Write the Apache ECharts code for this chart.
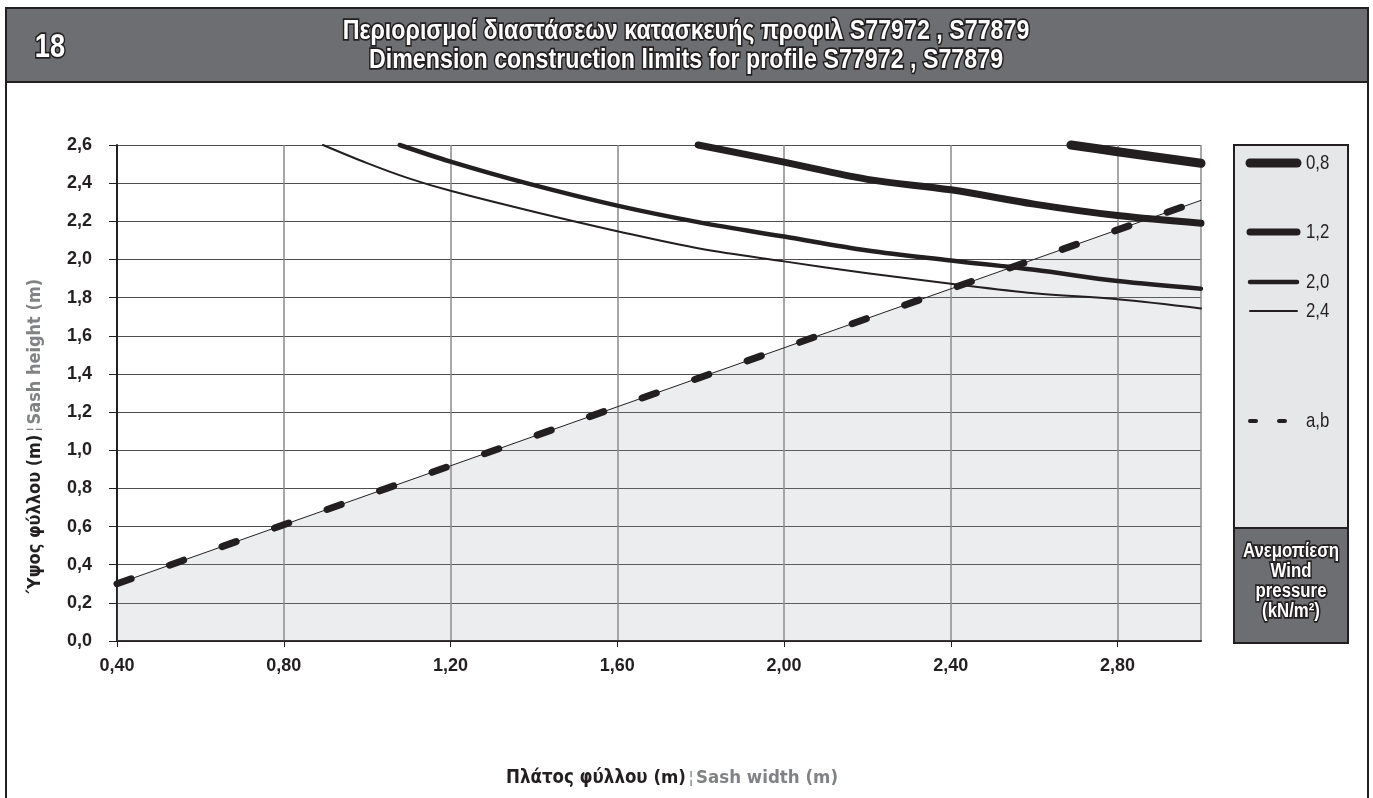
<!DOCTYPE html>
<html><head><meta charset="utf-8">
<script src="https://cdn.jsdelivr.net/npm/echarts@6/dist/echarts.min.js"></script>
<style>html,body{margin:0;padding:0;background:#fff}#c{width:1373px;height:798px}</style>
</head><body><div id="c"></div>
<script>
// ---- data ----
const titleLines = ['Περιορισμοί διαστάσεων κατασκευής προφιλ S77972 , S77879', 'Dimension construction limits for profile S77972 , S77879'];
const pageNumber = '18';
const pressureNames = ['0,8', '1,2', '2,0', '2,4'];
const limitName = 'a,b';
const curve08 = [[2.688, 2.60], [2.80, 2.565], [3.00, 2.504]];
const curve12 = [[1.794, 2.60], [2.00, 2.51], [2.20, 2.42], [2.40, 2.365], [2.60, 2.29], [2.80, 2.23], [3.00, 2.19]];
const curve20 = [[1.078, 2.60], [1.20, 2.513], [1.382, 2.40], [1.60, 2.282], [1.80, 2.193], [2.00, 2.12], [2.20, 2.047], [2.40, 1.995], [2.60, 1.946], [2.80, 1.887], [3.00, 1.847]];
const curve24 = [[0.894, 2.60], [1.00, 2.505], [1.10, 2.425], [1.20, 2.36], [1.40, 2.25], [1.60, 2.148], [1.80, 2.056], [2.00, 1.99], [2.20, 1.928], [2.40, 1.873], [2.60, 1.823], [2.80, 1.791], [3.00, 1.743]];
const lineAB = [[0.40, 0.30], [3.00, 2.31]];
const xAxisName = ['Πλάτος φύλλου (m)', '¦', 'Sash width (m)'];
const yAxisName = ['Ύψος φύλλου (m)', '¦', 'Sash height (m)'];
const legendTitle = ['Ανεμοπίεση', 'Wind', 'pressure', '(kN/m²)'];

// ---- chart ----
const NARROW = "'Liberation Sans Narrow', 'DejaVu Sans Condensed', 'Arial Narrow', sans-serif";
const SANS = "'Liberation Sans', Arial, sans-serif";
const INK = '#231f20';
const GREYTXT = '#808285';
const chart = echarts.init(document.getElementById('c'), null, {renderer: 'canvas'});

const curveSeries = (name, data, w) => ({
  name, type: 'line', data, symbol: 'none', smooth: 0.35, clip: false, z: 5,
  lineStyle: {color: INK, width: w, cap: 'round', join: 'round'}
});

// condensed look: Liberation Sans squeezed horizontally
const cText = (x, y, text, font, opts) => Object.assign({
  type: 'text', z: 3, x, y, scaleX: 0.8,
  style: {text, font, fill: INK, textAlign: 'left', textVerticalAlign: 'middle'}
}, opts || {});
const outlined = {fill: '#fff', stroke: INK, lineWidth: 3.5, strokeFirst: true, textAlign: 'center', textVerticalAlign: 'middle'};

const legendY = [163, 232, 282, 311];
const legendW = [9, 7, 4.5, 2];
const graphics = [
  {type: 'rect', z: 0, shape: {x: 6, y: 8, width: 1362, height: 800}, style: {fill: 'none', stroke: INK, lineWidth: 2}},
  {type: 'rect', z: 1, shape: {x: 6, y: 8, width: 1362, height: 74}, style: {fill: '#6d6e71', stroke: INK, lineWidth: 2}},
  {type: 'text', z: 2, x: 50, y: 48, scaleX: 0.8, style: Object.assign({text: pageNumber, font: 'bold 34px ' + SANS}, outlined)},
  {type: 'text', z: 2, x: 686, y: 31, scaleX: 0.83, style: Object.assign({text: titleLines[0], font: 'bold 28px ' + SANS}, outlined)},
  {type: 'text', z: 2, x: 686, y: 60, scaleX: 0.83, style: Object.assign({text: titleLines[1], font: 'bold 28px ' + SANS}, outlined)},
  {type: 'rect', z: 1, shape: {x: 1234, y: 145, width: 114, height: 498}, style: {fill: '#e6e7e8', stroke: INK, lineWidth: 2}},
  {type: 'rect', z: 2, shape: {x: 1234, y: 528, width: 114, height: 115}, style: {fill: '#6d6e71', stroke: INK, lineWidth: 2}}
];
pressureNames.forEach((n, i) => {
  graphics.push({type: 'line', z: 3, shape: {x1: 1250, y1: legendY[i], x2: 1297, y2: legendY[i]}, style: {stroke: INK, lineWidth: legendW[i], lineCap: 'round'}});
  graphics.push(cText(1306, legendY[i], n, '21px ' + SANS));
});
graphics.push({type: 'line', z: 3, shape: {x1: 1250, y1: 421, x2: 1256, y2: 421}, style: {stroke: INK, lineWidth: 4, lineCap: 'round'}});
graphics.push({type: 'line', z: 3, shape: {x1: 1279, y1: 421, x2: 1285, y2: 421}, style: {stroke: INK, lineWidth: 4, lineCap: 'round'}});
graphics.push(cText(1306, 421, limitName, '21px ' + SANS));
legendTitle.forEach((t, i) => {
  graphics.push({type: 'text', z: 3, x: 1291, y: 551 + i * 20, scaleX: 0.84, style: Object.assign({text: t, font: 'bold 20px ' + SANS}, outlined)});
});

const option = {
  animation: false,
  backgroundColor: '#fff',
  grid: {left: 117, right: 172, top: 145, bottom: 157, containLabel: false},
  xAxis: {
    type: 'value', min: 0.4, max: 3.0, interval: 0.4,
    name: '{a|' + xAxisName[0] + '}{b|' + xAxisName[1] + '}{c|' + xAxisName[2] + '}',
    nameLocation: 'middle', nameGap: 128,
    nameTextStyle: {padding: [0, 0, 0, 26], rich: {
      a: {fontFamily: NARROW, fontWeight: 'bold', fontSize: 18.5, color: INK},
      b: {fontFamily: SANS, fontSize: 16, color: GREYTXT, padding: [0, 3, 0, 3]},
      c: {fontFamily: NARROW, fontWeight: 'bold', fontSize: 18.5, color: GREYTXT}
    }},
    axisLine: {show: true, onZero: false, lineStyle: {color: INK, width: 2}},
    axisTick: {show: true, length: 6, lineStyle: {color: INK, width: 1}},
    axisLabel: {formatter: v => v.toFixed(2).replace('.', ','), fontFamily: SANS, fontSize: 18, fontWeight: 'bold', color: INK, margin: 16, showMaxLabel: false},
    splitLine: {show: true, lineStyle: {color: '#8a8a8a', width: 1.5}}
  },
  yAxis: {
    type: 'value', min: 0, max: 2.6, interval: 0.2,
    name: '{a|' + yAxisName[0] + '}{b|' + yAxisName[1] + '}{c|' + yAxisName[2] + '}',
    nameLocation: 'middle', nameGap: 73, nameRotate: 90,
    nameTextStyle: {padding: [0, 86, 0, 0], rich: {
      a: {fontFamily: NARROW, fontWeight: 'bold', fontSize: 18, color: INK},
      b: {fontFamily: SANS, fontSize: 16, color: GREYTXT, padding: [0, 3, 0, 3]},
      c: {fontFamily: NARROW, fontWeight: 'bold', fontSize: 18, color: GREYTXT}
    }},
    axisLine: {show: true, lineStyle: {color: INK, width: 2}},
    axisTick: {show: true, length: 8, lineStyle: {color: INK, width: 1}},
    axisLabel: {formatter: v => v.toFixed(1).replace('.', ','), fontFamily: SANS, fontSize: 18, fontWeight: 'bold', color: INK, margin: 25},
    splitLine: {show: true, lineStyle: {color: '#4d4d4d', width: 1}}
  },
  series: [
    {name: limitName + ' area', type: 'line', data: lineAB, symbol: 'none', z: 2,
      lineStyle: {color: INK, width: 1}, areaStyle: {color: 'rgba(155,159,163,0.27)', origin: 'start'}},
    {name: limitName, type: 'line', data: lineAB, symbol: 'none', z: 4, clip: false,
      lineStyle: {color: INK, width: 7, type: [15, 40.7], cap: 'round'}},
    curveSeries(pressureNames[3], curve24, 2),
    curveSeries(pressureNames[2], curve20, 4.5),
    curveSeries(pressureNames[1], curve12, 7),
    curveSeries(pressureNames[0], curve08, 9)
  ],
  graphic: graphics
};
chart.setOption(option);
</script>
</body></html>
